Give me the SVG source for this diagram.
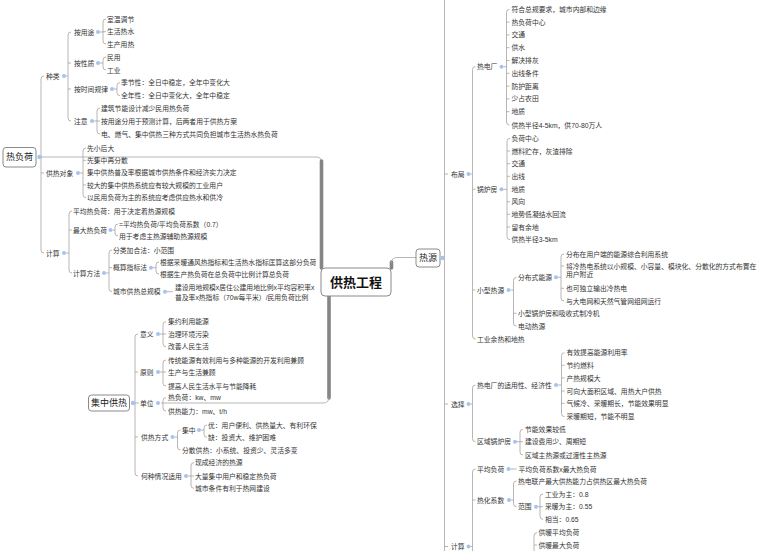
<svg xmlns="http://www.w3.org/2000/svg" width="760" height="551" viewBox="0 0 760 551">
<style>
.l{fill:none;stroke:#a3a3a3;stroke-width:0.8}
.k{fill:none;stroke:#858585;stroke-width:3.6;stroke-linecap:round}
.t{font-family:"Liberation Sans","Noto Sans CJK SC",sans-serif;font-size:6.8px;fill:#333;dominant-baseline:central}
.m{font-family:"Liberation Sans","Noto Sans CJK SC",sans-serif;font-size:9px;fill:#222;dominant-baseline:central;text-anchor:middle}
.c{font-family:"Liberation Sans","Noto Sans CJK SC",sans-serif;font-size:13px;font-weight:bold;fill:#111;dominant-baseline:central;text-anchor:middle}
.b{fill:#fff;stroke:#8a8a8a;stroke-width:1}
.d{fill:#a9c2ec}
</style>
<rect width="760" height="551" fill="#fff"/>
<g id="connectors">
<path class="l" d="M41,157 H316 Q321.5,157 321.5,162"/>
<path class="k" d="M321.5,161 V268"/>
<path class="k" d="M329,296 V398"/>
<path class="l" d="M329,397 Q329,403 323,403 H161"/>
<path class="k" d="M391.5,268 V262"/>
<path class="l" d="M391.5,263 Q391.5,257.5 397,257.5 H416"/>
<path class="l" d="M44,76 Q41,76 41,79 V250 Q41,253 44,253 M41,173 H44"/>
<path class="l" d="M66,76 H68 M71,32 Q68,32 68,35 V118 Q68,121 71,121 M68,63 H71 M68,89 H71"/>
<path class="l" d="M100,32 H103 M106,19 Q103,19 103,22 V41 Q103,44 106,44 M103,31.7 H106"/>
<path class="l" d="M100,63 H103 M106,57 Q103,57 103,60 V67 Q103,70 106,70"/>
<path class="l" d="M114,89 H117 M120,82.7 Q117,82.7 117,85.7 V92.7 Q117,95.7 120,95.7"/>
<path class="l" d="M94,121 H97 M100,108 Q97,108 97,111 V131 Q97,134 100,134 M97,121 H100"/>
<path class="l" d="M80,173 H83 M86,148 Q83,148 83,151 V194.7 Q83,197.7 86,197.7 M83,160.3 H86 M83,185 H86"/>
<path class="l" d="M66,253 H69 M72,211 Q69,211 69,214 V270 Q69,273 72,273 M69,230 H72"/>
<path class="l" d="M112.5,230 H115 M118,224 Q115,224 115,227 V233 Q115,236 118,236"/>
<path class="l" d="M106,273 H109 M112,250 Q109,250 109,253 V288.7 Q109,291.7 112,291.7 M109,267.7 H112"/>
<path class="l" d="M153,267.7 H156 M159,262 Q156,262 156,265 V271 Q156,274 159,274"/>
<path class="l" d="M167,291.7 H173"/>
<path class="l" d="M138,334 Q135,334 135,337 V473 Q135,476 138,476 M135,372 H138 M135,403 H139 M135,437 H138"/>
<path class="l" d="M160,334 H163 M166,321.7 Q163,321.7 163,324.7 V343.7 Q163,346.7 166,346.7 M163,334 H166"/>
<path class="l" d="M160,372 H163 M166,360 Q163,360 163,363 V383 Q163,386 166,386 M163,372 H166"/>
<path class="l" d="M166,397.7 Q163,397.7 163,400.7 V408 Q163,411 166,411"/>
<path class="l" d="M174.5,437 H177.5 M180.5,430 Q177.5,430 177.5,433 V447 Q177.5,450 180.5,450"/>
<path class="l" d="M201,430 H204 M207,425 Q204,425 204,428 V434.3 Q204,437.3 207,437.3"/>
<path class="l" d="M188,476 H191 M194,462.7 Q191,462.7 191,465.7 V485.3 Q191,488.3 194,488.3 M191,476 H194"/>
<path class="l" d="M444.5,0 V551 M444.5,174 H448 M444.5,404 H448 M444.5,546.5 H448"/>
<path class="l" d="M470.5,174 H472.5 M475.5,66.7 Q472.5,66.7 472.5,69.7 V336 Q472.5,339 475.5,339 M472.5,189.3 H475.5 M472.5,290 H475.5"/>
<path class="l" d="M503.5,66.7 H506.5 M509.5,9.3 Q506.5,9.3 506.5,12.3 V122 Q506.5,125 509.5,125 M506.5,22.1 H509.5 M506.5,34.9 H509.5 M506.5,47.7 H509.5 M506.5,60.5 H509.5 M506.5,73.3 H509.5 M506.5,86.1 H509.5 M506.5,98.9 H509.5 M506.5,111.7 H509.5"/>
<path class="l" d="M503.5,189.3 H507 M510,138.3 Q507,138.3 507,141.3 V236.7 Q507,239.7 510,239.7 M507,151 H510 M507,163.7 H510 M507,176.3 H510 M507,201.7 H510 M507,214.3 H510 M507,227 H510"/>
<path class="l" d="M510.5,290 H513.5 M516.5,277.3 Q513.5,277.3 513.5,280.3 V323 Q513.5,326 516.5,326 M513.5,313.3 H516.5"/>
<path class="l" d="M558,277.3 H561 M564,254 Q561,254 561,257 V298 Q561,301 564,301 M561,266 H564 M561,288.3 H564"/>
<path class="l" d="M470.5,404 H472.5 M475.5,385 Q472.5,385 472.5,388 V438.7 Q472.5,441.7 475.5,441.7"/>
<path class="l" d="M558,385 H561.5 M564.5,352.7 Q561.5,352.7 561.5,355.7 V413.7 Q561.5,416.7 564.5,416.7 M561.5,365.3 H564.5 M561.5,378 H564.5 M561.5,391 H564.5 M561.5,403.3 H564.5"/>
<path class="l" d="M517,441.7 H520 M523,429.3 Q520,429.3 520,432.3 V452 Q520,455 523,455 M520,441.7 H523"/>
<path class="l" d="M470.5,546.5 H472.5 M475.5,469 Q472.5,469 472.5,472 V551 M472.5,500 H475.5"/>
<path class="l" d="M510.5,469 H516.5"/>
<path class="l" d="M511,500 H513.5 M516.5,481 Q513.5,481 513.5,484 V503.7 Q513.5,506.7 516.5,506.7"/>
<path class="l" d="M538,506.7 H540 M543,494 Q540,494 540,497 V516.3 Q540,519.3 543,519.3 M540,506.7 H543"/>
<path class="l" d="M537,532.7 Q534,532.7 534,535.7 V551 M534,545 H537"/>
</g>
<g id="center"><rect class="b" x="321" y="268" width="70" height="28" rx="4" stroke="#777"/><text class="c" x="356" y="282">供热工程</text></g>
<g id="rfh"><rect class="b" x="3" y="147.5" width="33" height="19.5" rx="3"/><text class="m" x="19.5" y="157.3">热负荷</text><circle class="d" cx="39.5" cy="157" r="2.2"/></g>
<g id="jzgr"><rect class="b" x="88.5" y="395" width="41" height="16" rx="3"/><text class="m" x="109" y="403">集中供热</text><circle class="d" cx="133" cy="403" r="2.2"/></g>
<g id="ry"><rect class="b" x="416" y="249" width="24" height="18" rx="3"/><text class="m" x="428" y="258">热源</text><circle class="d" cx="442.5" cy="258" r="2.2"/></g>
<g id="zl"><text class="t" x="46" y="76">种类</text><circle class="d" cx="64" cy="76" r="2"/>
<text class="t" x="74" y="32">按用途</text><circle class="d" cx="98" cy="32" r="2"/>
<text class="t" x="107" y="19">室温调节</text><text class="t" x="107" y="31.7">生活热水</text><text class="t" x="107" y="44">生产用热</text>
<text class="t" x="74" y="63">按性质</text><circle class="d" cx="98" cy="63" r="2"/>
<text class="t" x="107" y="57">民用</text><text class="t" x="107" y="70">工业</text>
<text class="t" x="74" y="89">按时间规律</text><circle class="d" cx="112" cy="89" r="2"/>
<text class="t" x="121" y="82.7">季节性：全日中稳定，全年中变化大</text><text class="t" x="121" y="95.7">全年性：全日中变化大，全年中稳定</text>
<text class="t" x="74" y="121">注意</text><circle class="d" cx="92" cy="121" r="2"/>
<text class="t" x="101" y="108">建筑节能设计减少民用热负荷</text><text class="t" x="101" y="121">按用途分用于预测计算，后两者用于供热方案</text><text class="t" x="101" y="134">电、燃气、集中供热三种方式共同负担城市生活热水热负荷</text></g>
<g id="grdx"><text class="t" x="46" y="173">供热对象</text><circle class="d" cx="78" cy="173" r="2"/>
<text class="t" x="87" y="148">先小后大</text><text class="t" x="87" y="160.3">先集中再分散</text><text class="t" x="87" y="172.7">集中供热普及率根据城市供热条件和经济实力决定</text><text class="t" x="87" y="185">较大的集中供热系统应有较大规模的工业用户</text><text class="t" x="87" y="197.7">以民用负荷为主的系统应考虑供应热水和供冷</text></g>
<g id="js1"><text class="t" x="46" y="253">计算</text><circle class="d" cx="64" cy="253" r="2"/>
<text class="t" x="73" y="211">平均热负荷：用于决定着热源规模</text>
<text class="t" x="73" y="230">最大热负荷</text><circle class="d" cx="110.5" cy="230" r="2"/>
<text class="t" x="119" y="224">=平均热负荷/平均负荷系数（0.7）</text><text class="t" x="119" y="236">用于考虑主热源辅助热源规模</text>
<text class="t" x="73" y="273">计算方法</text><circle class="d" cx="104" cy="273" r="2"/>
<text class="t" x="113" y="250">分类加合法：小范围</text>
<text class="t" x="113" y="267.7">概算指标法</text><circle class="d" cx="151" cy="267.7" r="2"/>
<text class="t" x="160" y="262">根据采暖通风热指标和生活热水指标匡算这部分负荷</text><text class="t" x="160" y="274">根据生产热负荷在总负荷中比例计算总负荷</text>
<text class="t" x="113" y="291.7">城市供热总规模</text><circle class="d" cx="165" cy="291.7" r="2"/>
<text class="t" x="175" y="287.3">建设用地规模x居住公建用地比例x平均容积率x</text><text class="t" x="175" y="297.3">普及率x热指标（70w每平米）/民用负荷比例</text></g>
<g id="yy"><text class="t" x="140" y="334">意义</text><circle class="d" cx="158" cy="334" r="2"/>
<text class="t" x="168" y="321.7">集约利用能源</text><text class="t" x="168" y="334">治理环境污染</text><text class="t" x="168" y="346.7">改善人民生活</text></g>
<g id="yz"><text class="t" x="140" y="372">原则</text><circle class="d" cx="158" cy="372" r="2"/>
<text class="t" x="168" y="360">传统能源有效利用与多种能源的开发利用兼顾</text><text class="t" x="168" y="372">生产与生活兼顾</text><text class="t" x="168" y="386">提高人民生活水平与节能降耗</text></g>
<g id="dw"><text class="t" x="140" y="403">单位</text><circle class="d" cx="158" cy="403" r="2"/>
<text class="t" x="168" y="397.7">热负荷：kw、mw</text><text class="t" x="168" y="411">供热能力：mw、t/h</text></g>
<g id="grfs"><text class="t" x="141" y="437">供热方式</text><circle class="d" cx="172.5" cy="437" r="2"/>
<text class="t" x="182" y="430">集中</text><circle class="d" cx="199" cy="430" r="2"/>
<text class="t" x="208" y="425">优：用户便利、供热量大、有利环保</text><text class="t" x="208" y="437.3">缺：投资大、维护困难</text>
<text class="t" x="182" y="450">分散供热：小系统、投资少、灵活多变</text></g>
<g id="hzqk"><text class="t" x="141" y="476">何种情况适用</text><circle class="d" cx="186" cy="476" r="2"/>
<text class="t" x="195" y="462.7">现成经济的热源</text><text class="t" x="195" y="476">大量集中用户和稳定热负荷</text><text class="t" x="195" y="488.3">城市条件有利于热网建设</text></g>
<g id="bj"><text class="t" x="451" y="174">布局</text><circle class="d" cx="468.5" cy="174" r="2"/>
<text class="t" x="477" y="66.7">热电厂</text><circle class="d" cx="501.5" cy="66.7" r="2"/>
<text class="t" x="511.5" y="9.3">符合总规要求，城市内部和边缘</text><text class="t" x="511.5" y="22.1">热负荷中心</text><text class="t" x="511.5" y="34.9">交通</text><text class="t" x="511.5" y="47.7">供水</text><text class="t" x="511.5" y="60.5">解决排灰</text><text class="t" x="511.5" y="73.3">出线条件</text><text class="t" x="511.5" y="86.1">防护距离</text><text class="t" x="511.5" y="98.9">少占农田</text><text class="t" x="511.5" y="111.7">地质</text><text class="t" x="511.5" y="125">供热半径4-5km，供70-80万人</text>
<text class="t" x="477" y="189.3">锅炉房</text><circle class="d" cx="501.5" cy="189.3" r="2"/>
<text class="t" x="511.5" y="138.3">负荷中心</text><text class="t" x="511.5" y="151">燃料贮存，灰渣排除</text><text class="t" x="511.5" y="163.7">交通</text><text class="t" x="511.5" y="176.3">出线</text><text class="t" x="511.5" y="189">地质</text><text class="t" x="511.5" y="201.7">风向</text><text class="t" x="511.5" y="214.3">地势低凝结水回流</text><text class="t" x="511.5" y="227">留有余地</text><text class="t" x="511.5" y="239.7">供热半径3-5km</text>
<text class="t" x="477" y="290">小型热源</text><circle class="d" cx="508.5" cy="290" r="2"/>
<text class="t" x="518" y="277.3">分布式能源</text><circle class="d" cx="556" cy="277.3" r="2"/>
<text class="t" x="566" y="254">分布在用户端的能源综合利用系统</text><text class="t" x="566" y="266">将冷热电系统以小规模、小容量、模块化、分散化的方式布置在</text><text class="t" x="566" y="274.3">用户附近</text><text class="t" x="566" y="288.3">也可独立输出冷热电</text><text class="t" x="566" y="301">与大电网和天然气管网组网运行</text>
<text class="t" x="518" y="313.3">小型锅炉房和吸收式制冷机</text><text class="t" x="518" y="326">电动热源</text>
<text class="t" x="477" y="339">工业余热和地热</text></g>
<g id="xz"><text class="t" x="451" y="404">选择</text><circle class="d" cx="468.5" cy="404" r="2"/>
<text class="t" x="477" y="385">热电厂的适用性、经济性</text><circle class="d" cx="556" cy="385" r="2"/>
<text class="t" x="566.5" y="352.7">有效提高能源利用率</text><text class="t" x="566.5" y="365.3">节约燃料</text><text class="t" x="566.5" y="378">产热规模大</text><text class="t" x="566.5" y="391">可向大面积区域、用热大户供热</text><text class="t" x="566.5" y="403.3">气候冷、采暖期长，节能效果明显</text><text class="t" x="566.5" y="416.7">采暖期短，节能不明显</text>
<text class="t" x="477" y="441.7">区域锅炉房</text><circle class="d" cx="515" cy="441.7" r="2"/>
<text class="t" x="525" y="429.3">节能效果较低</text><text class="t" x="525" y="441.7">建设费用少、周期短</text><text class="t" x="525" y="455">区域主热源或过渡性主热源</text></g>
<g id="js2"><text class="t" x="451" y="546.5">计算</text><circle class="d" cx="468.5" cy="546.5" r="2"/>
<text class="t" x="477" y="469">平均负荷</text><circle class="d" cx="508.5" cy="469" r="2"/>
<text class="t" x="518.5" y="469">平均负荷系数x最大热负荷</text>
<text class="t" x="477" y="500">热化系数</text><circle class="d" cx="509" cy="500" r="2"/>
<text class="t" x="518" y="481">热电联产最大供热能力占供热区最大热负荷</text>
<text class="t" x="518" y="506.7">范围</text><circle class="d" cx="536" cy="506.7" r="2"/>
<text class="t" x="545" y="494">工业为主：0.8</text><text class="t" x="545" y="506.7">采暖为主：0.55</text><text class="t" x="545" y="519.3">相当：0.65</text>
<text class="t" x="538.5" y="532.7">供暖平均负荷</text><text class="t" x="538.5" y="545">供暖最大负荷</text></g>
</svg>
